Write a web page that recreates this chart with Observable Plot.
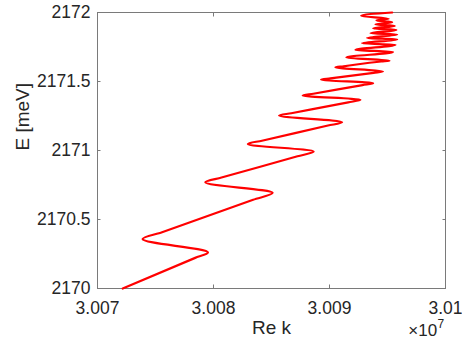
<!DOCTYPE html>
<html><head><meta charset="utf-8">
<script src="https://cdn.jsdelivr.net/npm/d3@7"></script>
<script src="https://cdn.jsdelivr.net/npm/@observablehq/plot@0.6"></script>
<style>body{margin:0;background:#fff}</style>
</head><body><div id="chart"></div>
<script>
// Curve samples (Re k, E): turning points plus points on the straight runs
const reK = [30072174, 30078421, 30079525, 30073883, 30075565, 30083417, 30085099, 30079292,
  30080690, 30087239, 30088636, 30082959, 30084176, 30089870, 30091087, 30085651,
  30086704, 30091613, 30092666, 30087687, 30088602, 30092847, 30093761, 30089275,
  30090077, 30093805, 30094607, 30090509, 30091208, 30094469, 30095168, 30091458,
  30095470, 30092234, 30095686, 30092812, 30095832, 30093244, 30095832, 30093529,
  30095772, 30093761, 30095625, 30093960, 30095401, 30094046, 30095107, 30092726,
  30095401];
const energy = [2170.000, 2170.222, 2170.261, 2170.358, 2170.408, 2170.643, 2170.693, 2170.770,
  2170.804, 2170.958, 2170.992, 2171.048, 2171.071, 2171.181, 2171.204, 2171.253,
  2171.270, 2171.349, 2171.367, 2171.398, 2171.411, 2171.474, 2171.487, 2171.514,
  2171.523, 2171.563, 2171.572, 2171.603, 2171.610, 2171.645, 2171.650, 2171.674,
  2171.714, 2171.729, 2171.766, 2171.777, 2171.804, 2171.816, 2171.840, 2171.850,
  2171.874, 2171.884, 2171.903, 2171.913, 2171.930, 2171.942, 2171.954, 2171.976,
  2172.000];

const xDomain = [30070000, 30100000];
const yDomain = [2170, 2172];
const xTicks = [30070000, 30080000, 30090000, 30100000];
const xTickLabels = ["3.007", "3.008", "3.009", "3.01"];
const yTicks = [2170, 2170.5, 2171, 2171.5, 2172];
const yTickLabels = ["2170", "2170.5", "2171", "2171.5", "2172"];
const xLabel = "Re k";
const yLabel = "E [meV]";
const exponentBase = "×10";
const exponent = "7";

const data = reK.map((x, i) => ({x, y: energy[i]}));
const axisColor = "#7a7a7a";
const textColor = "#262626";

const chart = Plot.plot({
  width: 462, height: 352,
  marginLeft: 97, marginRight: 17, marginTop: 12, marginBottom: 64,
  style: {fontFamily: "'Liberation Sans', Arial, sans-serif", fontSize: "17px", color: textColor, background: "#fff", overflow: "visible"},
  x: {domain: xDomain},
  y: {domain: yDomain},
  marks: [
    Plot.axisX(xTicks, {anchor: "bottom", tickSize: -3.5, tickFormat: () => "", label: null, stroke: axisColor}),
    Plot.axisX(xTicks, {anchor: "top", tickSize: -3.5, tickFormat: () => "", label: null, stroke: axisColor}),
    Plot.axisY(yTicks, {anchor: "left", tickSize: -3.5, tickFormat: () => "", label: null, stroke: axisColor}),
    Plot.axisY(yTicks, {anchor: "right", tickSize: -3.5, tickFormat: () => "", label: null, stroke: axisColor}),
    Plot.axisX(xTicks, {anchor: "bottom", tickSize: 0, tickPadding: 13, fontSize: 17.5, fill: textColor,
      tickFormat: d => xTickLabels[xTicks.indexOf(d)], label: null}),
    Plot.axisY(yTicks, {anchor: "left", tickSize: 0, tickPadding: 7, fontSize: 17.5, fill: textColor,
      tickFormat: d => yTickLabels[yTicks.indexOf(d)], label: null}),
    Plot.frame({stroke: axisColor, strokeWidth: 1}),
    Plot.line(data, {x: "x", y: "y", curve: "monotone-y", stroke: "#ff0000", strokeWidth: 2.2}),
    Plot.text([xLabel], {frameAnchor: "bottom", dy: 45.6, fontSize: 19, fill: textColor}),
    Plot.text([yLabel], {frameAnchor: "left", dx: -75, rotate: -90, fontSize: 19, fill: textColor}),
    Plot.text([exponentBase], {frameAnchor: "bottom-right", textAnchor: "end", dx: -8.3, dy: 47.8, fontSize: 17, fill: textColor}),
    Plot.text([exponent], {frameAnchor: "bottom-right", textAnchor: "start", dx: -8, dy: 39, fontSize: 12, fill: textColor})
  ]
});
document.getElementById("chart").appendChild(chart);
</script>
</body></html>
